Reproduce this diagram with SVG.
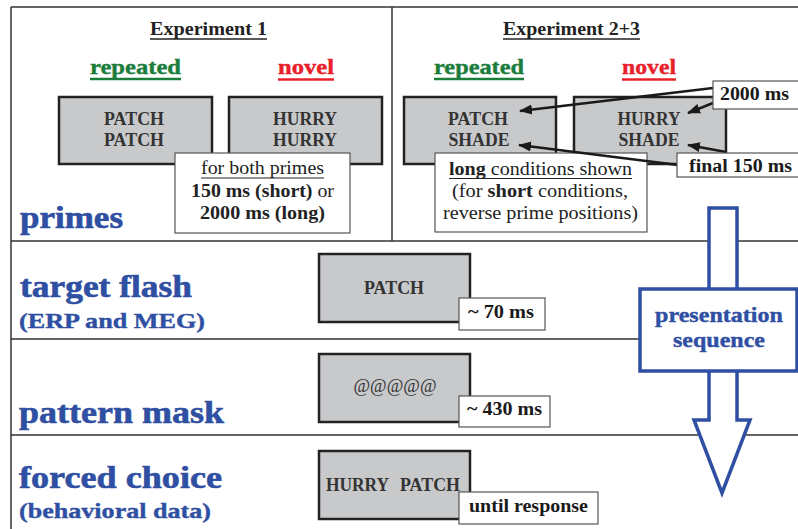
<svg xmlns="http://www.w3.org/2000/svg" width="798" height="529" viewBox="0 0 798 529" font-family="'Liberation Serif','Times New Roman',Times,serif">
<style>
text{font-family:'Liberation Serif','Times New Roman',Times,serif;}
.b{font-weight:bold;}
.frame{stroke:#333;stroke-width:1.5;fill:none;}
.stim{fill:#c8c9cb;stroke:#222;stroke-width:2.5;}
.stx{font-size:18px;font-weight:bold;fill:#333;text-anchor:middle;}
.lbl{fill:#fff;stroke:#555;stroke-width:1.2;}
.ltx{font-size:18px;font-weight:bold;fill:#1a1a1a;}
.note{font-size:18px;fill:#222;}
.hdr{font-size:18px;font-weight:bold;fill:#222;}
.grn{font-size:22px;font-weight:bold;fill:#1b7d3c;stroke:#1b7d3c;stroke-width:0.4;}
.red{font-size:22px;font-weight:bold;fill:#e8202a;stroke:#e8202a;stroke-width:0.4;}
.big{font-size:32px;font-weight:bold;fill:#2f4fa2;stroke:#2f4fa2;stroke-width:0.6;}
.sub{font-size:22px;font-weight:bold;fill:#2f4fa2;stroke:#2f4fa2;stroke-width:0.4;}
.blue{fill:#fff;stroke:#2f4fa2;stroke-width:3.5;stroke-linejoin:miter;}
.arr{stroke:#1a1a1a;stroke-width:2.5;fill:none;marker-end:url(#ah);}
</style>
<defs>
<marker id="ah" markerUnits="userSpaceOnUse" markerWidth="14" markerHeight="12" refX="12" refY="5" orient="auto" viewBox="0 0 14 10">
<path d="M0,0 L13,5 L0,10 Z" fill="#1a1a1a"/>
</marker>
</defs>
<rect width="798" height="529" fill="#fff"/>
<g id="frame">
<line class="frame" x1="11" y1="7" x2="798" y2="7"/>
<line class="frame" x1="11" y1="7" x2="11" y2="529"/>
<line class="frame" x1="392" y1="7" x2="392" y2="241"/>
<line class="frame" x1="11" y1="241" x2="798" y2="241"/>
<line class="frame" x1="11" y1="339" x2="798" y2="339"/>
<line class="frame" x1="11" y1="435" x2="798" y2="435"/>
</g>
<g id="headers">
<text class="hdr" x="150" y="35" textLength="117" lengthAdjust="spacingAndGlyphs">Experiment 1</text>
<line x1="150" y1="39" x2="267" y2="39" stroke="#222" stroke-width="1.5"/>
<text class="hdr" x="503" y="35" textLength="137" lengthAdjust="spacingAndGlyphs">Experiment 2+3</text>
<line x1="503" y1="39" x2="640" y2="39" stroke="#222" stroke-width="1.5"/>
<text class="grn" x="90" y="74" textLength="91" lengthAdjust="spacingAndGlyphs">repeated</text>
<line x1="90" y1="79" x2="181" y2="79" stroke="#1b7d3c" stroke-width="2.5"/>
<text class="red" x="278" y="74" textLength="56" lengthAdjust="spacingAndGlyphs">novel</text>
<line x1="278" y1="79.5" x2="334" y2="79.5" stroke="#e8202a" stroke-width="2.5"/>
<text class="grn" x="434" y="74" textLength="90" lengthAdjust="spacingAndGlyphs">repeated</text>
<line x1="434" y1="79" x2="524" y2="79" stroke="#1b7d3c" stroke-width="2.5"/>
<text class="red" x="622" y="74" textLength="54" lengthAdjust="spacingAndGlyphs">novel</text>
<line x1="622" y1="79.5" x2="676" y2="79.5" stroke="#e8202a" stroke-width="2.5"/>
</g>
<g id="rowlabels">
<text class="big" x="20" y="228" textLength="103" lengthAdjust="spacingAndGlyphs">primes</text>
<text class="big" x="20" y="297" textLength="172" lengthAdjust="spacingAndGlyphs">target flash</text>
<text class="sub" x="19" y="328" textLength="186" lengthAdjust="spacingAndGlyphs">(ERP and MEG)</text>
<text class="big" x="19" y="423" textLength="205" lengthAdjust="spacingAndGlyphs">pattern mask</text>
<text class="big" x="19" y="488" textLength="203" lengthAdjust="spacingAndGlyphs">forced choice</text>
<text class="sub" x="19" y="518" textLength="192" lengthAdjust="spacingAndGlyphs">(behavioral data)</text>
</g>
<g id="prime-exp1-repeated">
<rect class="stim" x="59" y="97" width="153" height="67"/>
<text class="stx" x="134" y="125" textLength="60" lengthAdjust="spacingAndGlyphs">PATCH</text>
<text class="stx" x="134" y="146" textLength="60" lengthAdjust="spacingAndGlyphs">PATCH</text>
</g>
<g id="prime-exp1-novel">
<rect class="stim" x="229" y="97" width="153" height="67"/>
<text class="stx" x="305" y="125" textLength="64" lengthAdjust="spacingAndGlyphs">HURRY</text>
<text class="stx" x="305" y="146" textLength="64" lengthAdjust="spacingAndGlyphs">HURRY</text>
</g>
<g id="note-exp1">
<rect class="lbl" x="175" y="153" width="175" height="80"/>
<text class="note" x="201" y="174" textLength="123" lengthAdjust="spacingAndGlyphs">for both primes</text>
<line x1="201" y1="178" x2="324" y2="178" stroke="#222" stroke-width="1.2"/>
<text class="note" x="191" y="197" textLength="143" lengthAdjust="spacingAndGlyphs"><tspan class="b">150 ms (short)</tspan> or</text>
<text class="note b" x="200" y="219" textLength="125" lengthAdjust="spacingAndGlyphs">2000 ms (long)</text>
</g>
<g id="prime-exp2-repeated">
<rect class="stim" x="404" y="97" width="152" height="67"/>
<text class="stx" x="478" y="125" textLength="60" lengthAdjust="spacingAndGlyphs">PATCH</text>
<text class="stx" x="479" y="146" textLength="61" lengthAdjust="spacingAndGlyphs">SHADE</text>
</g>
<g id="prime-exp2-novel">
<rect class="stim" x="574" y="97" width="152" height="67"/>
<text class="stx" x="649" y="125" textLength="63" lengthAdjust="spacingAndGlyphs">HURRY</text>
<text class="stx" x="649" y="146" textLength="61" lengthAdjust="spacingAndGlyphs">SHADE</text>
</g>
<g id="note-exp2">
<rect class="lbl" x="435" y="153" width="212" height="79"/>
<text class="note" x="449" y="175" textLength="183" lengthAdjust="spacingAndGlyphs"><tspan class="b">long</tspan> conditions shown</text>
<line x1="449" y1="178.5" x2="632" y2="178.5" stroke="#222" stroke-width="1.2"/>
<text class="note" x="452" y="197" textLength="176" lengthAdjust="spacingAndGlyphs">(for <tspan class="b">short</tspan> conditions,</text>
<text class="note" x="443" y="219" textLength="195" lengthAdjust="spacingAndGlyphs">reverse prime positions)</text>
</g>
<g id="connectors">
<line class="arr" x1="713" y1="88" x2="520" y2="111"/>
<line class="arr" x1="713" y1="103" x2="688" y2="113"/>
<line class="arr" x1="678" y1="165" x2="519" y2="145"/>
<line class="arr" x1="726" y1="152" x2="688" y2="145"/>
</g>
<g id="label-2000">
<rect class="lbl" x="713" y="81" width="90" height="28"/>
<text class="ltx" x="720" y="100" textLength="69" lengthAdjust="spacingAndGlyphs">2000 ms</text>
</g>
<g id="label-final150">
<rect class="lbl" x="677" y="153" width="130" height="24"/>
<text class="ltx" x="689" y="172" textLength="103" lengthAdjust="spacingAndGlyphs">final 150 ms</text>
</g>
<g id="target">
<rect class="stim" x="319" y="254" width="151" height="68"/>
<text class="stx" x="394" y="294" textLength="60" lengthAdjust="spacingAndGlyphs">PATCH</text>
</g>
<g id="label-70">
<rect class="lbl" x="459" y="298" width="86" height="32"/>
<text class="ltx" x="468" y="318" textLength="66" lengthAdjust="spacingAndGlyphs">~ 70 ms</text>
</g>
<g id="mask">
<rect class="stim" x="319" y="354" width="151" height="68"/>
<text x="395" y="392" font-size="18" fill="#333" text-anchor="middle" textLength="83" lengthAdjust="spacingAndGlyphs">@@@@@</text>
</g>
<g id="label-430">
<rect class="lbl" x="459" y="396" width="91" height="31"/>
<text class="ltx" x="467" y="415" textLength="75" lengthAdjust="spacingAndGlyphs">~ 430 ms</text>
</g>
<g id="choice">
<rect class="stim" x="319" y="451" width="151" height="68"/>
<text class="stx" x="326" y="491" style="text-anchor:start" textLength="63" lengthAdjust="spacingAndGlyphs">HURRY</text>
<text class="stx" x="400" y="491" style="text-anchor:start" textLength="60" lengthAdjust="spacingAndGlyphs">PATCH</text>
</g>
<g id="label-response">
<rect class="lbl" x="459" y="492" width="139" height="32"/>
<text class="ltx" x="469" y="512" textLength="119" lengthAdjust="spacingAndGlyphs">until response</text>
</g>
<g id="presentation-sequence">
<polygon class="blue" points="709,208 737,208 737,420 750,420 722,493 694,420 709,420"/>
<rect class="blue" x="640" y="289" width="157" height="82"/>
<text x="655" y="322" font-size="21" font-weight="bold" fill="#2f4fa2" stroke="#2f4fa2" stroke-width="0.4" textLength="128" lengthAdjust="spacingAndGlyphs">presentation</text>
<text x="673" y="347" font-size="21" font-weight="bold" fill="#2f4fa2" stroke="#2f4fa2" stroke-width="0.4" textLength="92" lengthAdjust="spacingAndGlyphs">sequence</text>
</g>
</svg>
